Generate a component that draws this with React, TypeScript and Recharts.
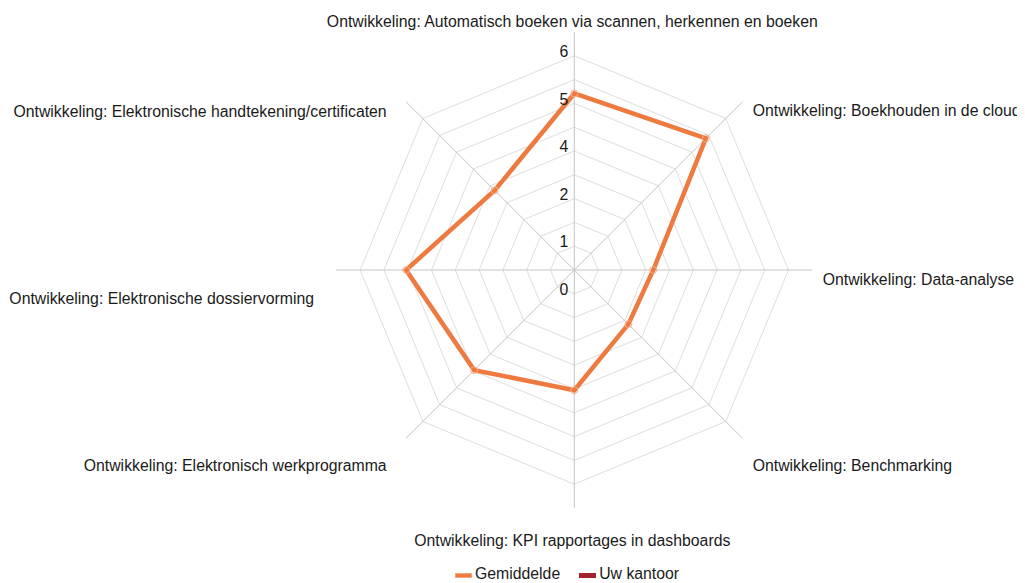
import React from 'react';
import { RadarChart, Radar, PolarGrid, PolarAngleAxis, PolarRadiusAxis, Legend } from 'recharts';

const categories = [
  'Ontwikkeling: Automatisch boeken via scannen, herkennen en boeken',
  'Ontwikkeling: Boekhouden in de cloud',
  'Ontwikkeling: Data-analyse',
  'Ontwikkeling: Benchmarking',
  'Ontwikkeling: KPI rapportages in dashboards',
  'Ontwikkeling: Elektronisch werkprogramma',
  'Ontwikkeling: Elektronische dossiervorming',
  'Ontwikkeling: Elektronische handtekening/certificaten',
];
const gemiddelde = [4.45, 4.69, 1.99, 1.93, 3.03, 3.57, 4.24, 2.84];
const seriesNames = ['Gemiddelde', 'Uw kantoor'];
const seriesColors = ['#EE7A40', '#A3222B'];
const radiusTicks = [0, 1.2, 2.4, 3.6, 4.8, 6];
const ringValues = [0.6, 1.2, 1.8, 2.4, 3.0, 3.6, 4.2, 4.8, 5.4];
const radiusDomain = [0, 6];

const data = categories.map((c, i) => ({ subject: c, gemiddelde: gemiddelde[i] }));

const OUTER = 238;
const FONT = '"Liberation Sans", Arial, Helvetica, sans-serif';

const labelOffsets: [number, number][] = [
  [-2, 2.5],
  [4.5, 20],
  [2.4, 15],
  [4.5, 27],
  [-2, 30],
  [-13.7, 27],
  [-14.3, 34],
  [-13.7, 21],
];

const AngleTick = (props: any) => {
  const { x, y, payload, index, textAnchor } = props;
  const off = labelOffsets[index] || [0, 0];
  return (
    <text x={x + off[0]} y={y + off[1]} textAnchor={textAnchor} fill="#1a1a1a" fontSize={15.8} fontFamily={FONT}>
      {payload.value}
    </text>
  );
};

const RadiusTick = (props: any) => {
  const { x, y, payload } = props;
  return (
    <text x={x - 6} y={y + 25} textAnchor="end" fill="#1a1a1a" fontSize={15.8} fontFamily={FONT}>
      {Math.round(payload.value)}
    </text>
  );
};

const LegendContent = () => (
  <div style={{ display: 'flex', alignItems: 'center', fontFamily: FONT, fontSize: 15.8, lineHeight: '16px', color: '#1a1a1a', whiteSpace: 'nowrap' }}>
    {seriesNames.map((n, i) => (
      <span key={n} style={{ display: 'inline-flex', alignItems: 'center', marginRight: 19 }}>
        <span style={{ display: 'inline-block', width: 17, height: 5, background: seriesColors[i], marginRight: 3, marginTop: 3, boxSizing: 'border-box', border: i === 0 ? '1px solid #F3A57C' : 'none' }} />
        {n}
      </span>
    ))}
  </div>
);

export default function App() {
  const ringRadii = ringValues.map((v) => (v / radiusDomain[1]) * OUTER);
  return (
    <RadarChart width={1017} height={575} data={data} cx={566.3} cy={262} outerRadius={OUTER} margin={{ top: 0, right: 0, bottom: 0, left: 0 }}>
      <PolarGrid gridType="polygon" radialLines={false} polarRadius={ringRadii} stroke="#dedede" strokeWidth={1} />
      <PolarGrid gridType="polygon" radialLines={true} polarRadius={[]} stroke="#c4c4c4" strokeWidth={1} />
      <PolarAngleAxis dataKey="subject" tick={AngleTick} tickLine={false} axisLine={false} />
      <PolarRadiusAxis angle={90} domain={radiusDomain} ticks={radiusTicks} tick={RadiusTick} axisLine={false} tickLine={false} />
      <Radar
        name={seriesNames[0]}
        dataKey="gemiddelde"
        stroke={seriesColors[0]}
        strokeWidth={4.5}
        fill="none"
        fillOpacity={0}
        dot={{ r: 3.5, fill: seriesColors[0], stroke: '#F5B08A', strokeWidth: 1 }}
        isAnimationActive={false}
      />
      <Legend content={LegendContent} wrapperStyle={{ position: 'absolute', left: 447, top: 558, width: 'auto' }} />
    </RadarChart>
  );
}
